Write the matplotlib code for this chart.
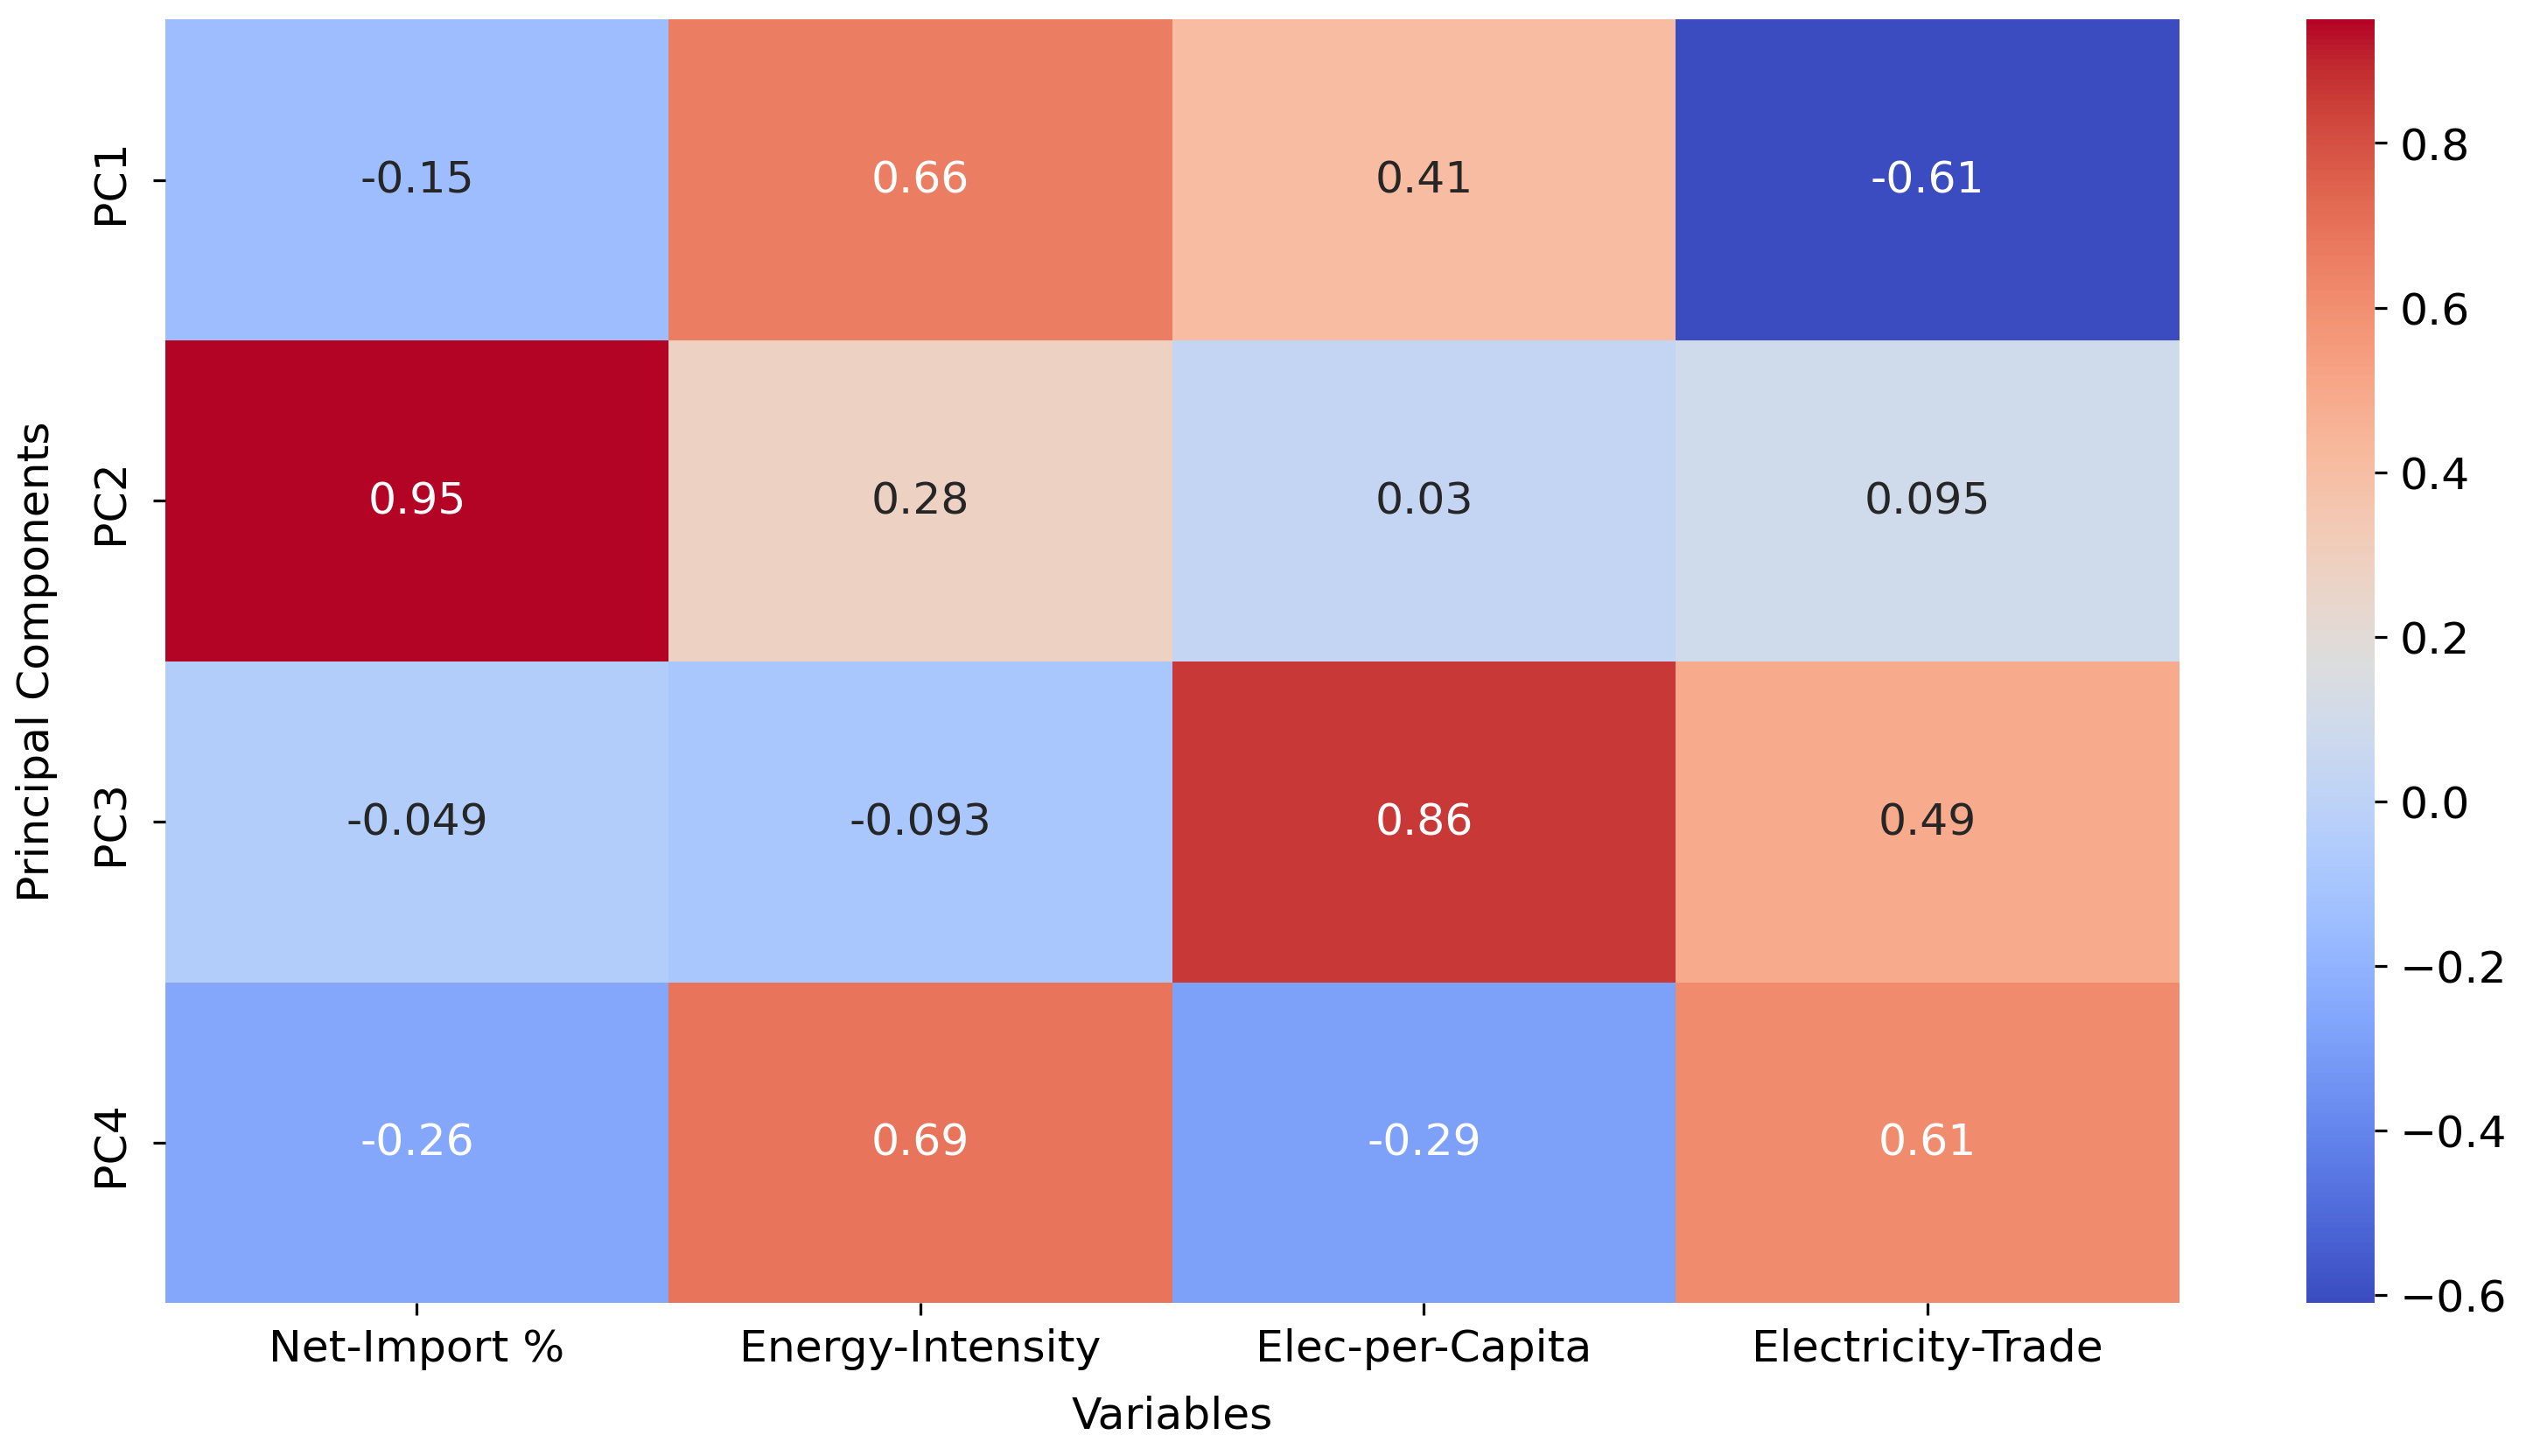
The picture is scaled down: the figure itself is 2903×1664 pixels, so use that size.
import numpy as np
import pandas as pd
import matplotlib
matplotlib.use("Agg")
import matplotlib.pyplot as plt
import seaborn as sns

components = ["PC1", "PC2", "PC3", "PC4"]
variables = ["Net-Import %", "Energy-Intensity", "Elec-per-Capita", "Electricity-Trade"]
pc1 = [-0.15, 0.66, 0.41, -0.61]
pc2 = [0.95, 0.28, 0.03, 0.095]
pc3 = [-0.049, -0.093, 0.86, 0.49]
pc4 = [-0.26, 0.69, -0.29, 0.61]

loadings = pd.DataFrame([pc1, pc2, pc3, pc4], index=components, columns=variables)

fs = 12.5
fig = plt.figure(figsize=(10, 5.735), dpi=290.3)
ax = fig.add_axes([0.065, 0.105, 0.793, 0.881])
cax = fig.add_axes([0.908, 0.105, 0.027, 0.881])

sns.heatmap(loadings, annot=True, fmt=".2g", cmap="coolwarm",
            ax=ax, cbar_ax=cax, annot_kws={"fontsize": fs})
ax.set_xlabel("Variables", fontsize=fs, labelpad=7)
ax.set_ylabel("Principal Components", fontsize=fs, labelpad=9)
ax.tick_params(labelsize=fs)
ax.tick_params(axis="y", pad=6)
cax.tick_params(labelsize=fs)
cax.set_yticks([-0.6, -0.4, -0.2, 0.0, 0.2, 0.4, 0.6, 0.8])

fig.savefig("out.png", dpi=290.3)
